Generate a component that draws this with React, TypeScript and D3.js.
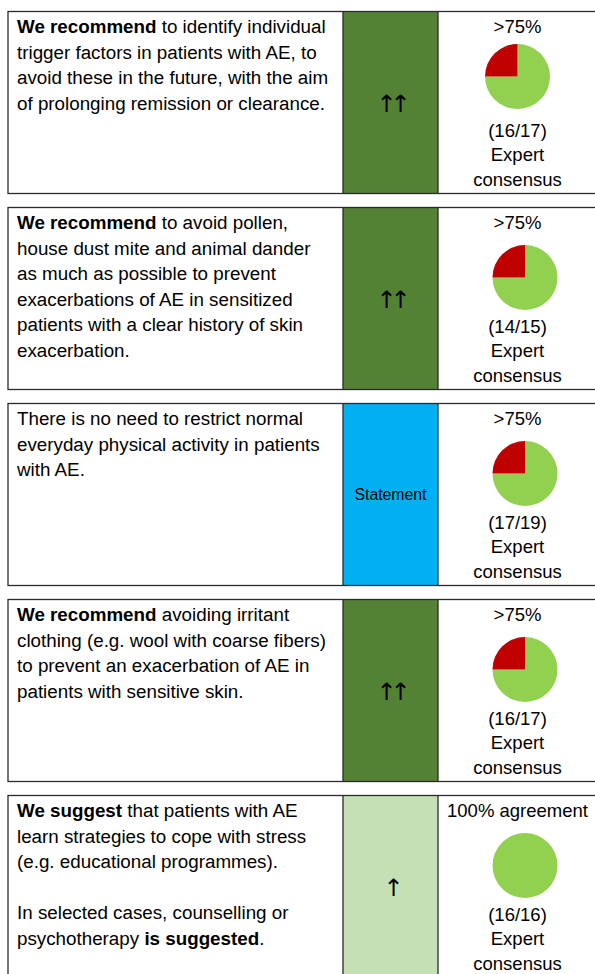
import React from "react";
import * as d3 from "d3";

// ---------- DATA ----------
// Recommendation text, one entry per row; each line is a list of [text, bold] segments
const recommendationLines: [string, boolean][][][] = [
  [
    [["We recommend", true], [" to identify individual", false]],
    [["trigger factors in patients with AE, to", false]],
    [["avoid these in the future, with the aim", false]],
    [["of prolonging remission or clearance.", false]],
  ],
  [
    [["We recommend", true], [" to avoid pollen,", false]],
    [["house dust mite and animal dander", false]],
    [["as much as possible to prevent", false]],
    [["exacerbations of AE in sensitized", false]],
    [["patients with a clear history of skin", false]],
    [["exacerbation.", false]],
  ],
  [
    [["There is no need to restrict normal", false]],
    [["everyday physical activity in patients", false]],
    [["with AE.", false]],
  ],
  [
    [["We recommend", true], [" avoiding irritant", false]],
    [["clothing (e.g. wool with coarse fibers)", false]],
    [["to prevent an exacerbation of AE in", false]],
    [["patients with sensitive skin.", false]],
  ],
  [
    [["We suggest", true], [" that patients with AE", false]],
    [["learn strategies to cope with stress", false]],
    [["(e.g. educational programmes).", false]],
    [],
    [["In selected cases, counselling or", false]],
    [["psychotherapy ", false], ["is suggested", true], [".", false]],
  ],
];

const strengthLabels = ["↑↑", "↑↑", "Statement", "↑↑", "↑"];
const strengthKinds = ["strong", "strong", "statement", "strong", "weak"];
const agreementLabels = [">75%", ">75%", ">75%", ">75%", "100% agreement"];
const votesFor = [16, 14, 17, 16, 16];
const votesTotal = [17, 15, 19, 17, 16];
// share of the pie icon drawn as agreement (green) vs. non-agreement (red)
const pieAgreeShare = [0.75, 0.75, 0.75, 0.75, 1];
const consensusLabel = ["Expert", "consensus"];

// ---------- STYLE ----------
const W = 595;
const H = 974;
const FONT = "'Liberation Sans', Arial, Helvetica, sans-serif";
const ARROW_FONT = "'DejaVu Sans', sans-serif";
const kindFill: Record<string, string> = {
  strong: "#548235",
  statement: "#00b0f0",
  weak: "#c5e0b4",
};
const GREEN = "#92d050";
const RED = "#c00000";
const BORDER = "#2b2b2b";

export default function App() {
  const n = recommendationLines.length;
  const yBox = d3
    .scaleBand<number>()
    .domain(d3.range(n))
    .range([11.5, 977.5])
    .paddingInner(14 / 196)
    .paddingOuter(0);
  const bh = yBox.bandwidth();

  const x0 = 8;
  const x1 = 343;
  const x2 = 438;
  const x3 = 600;

  const pie = d3
    .pie<number>()
    .sort(null)
    .value((d) => d);
  const arc = d3.arc<d3.PieArcDatum<number>>().innerRadius(0).outerRadius(32.5);

  return (
    <svg
      width={W}
      height={H}
      style={{ position: "absolute", left: 0, top: 0, background: "#fff" }}
      fontFamily={FONT}
    >
      <rect x={0} y={0} width={W} height={H} fill="#fff" />
      {d3.range(n).map((i) => {
        const top = yBox(i)!;
        const share = pieAgreeShare[i];
        const slices = pie([share, 1 - share]);
        const pieCx = i === 0 ? 517.5 : 525;
        const pieCy = top + (i === 0 ? 65 : 70);
        const midX = (x1 + x2) / 2;
        const rightX = 517.5;
        const kind = strengthKinds[i];
        const isStatement = kind === "statement";
        return (
          <g key={i}>
            <rect x={x0} y={top} width={x3 - x0} height={bh} fill="#fff" />
            <rect x={x1} y={top} width={x2 - x1} height={bh} fill={kindFill[kind]} />
            <rect
              x={x0}
              y={top}
              width={x3 - x0}
              height={bh}
              fill="none"
              stroke={BORDER}
              strokeWidth={1.3}
            />
            <line x1={x1} x2={x1} y1={top} y2={top + bh} stroke={BORDER} strokeWidth={1.3} />
            <line x1={x2} x2={x2} y1={top} y2={top + bh} stroke={BORDER} strokeWidth={1.3} />

            {recommendationLines[i].map((segs, li) => (
              <text
                key={li}
                x={17}
                y={top + 21.7 + li * 25.5}
                fontSize={18.8}
                fill="#000"
              >
                {segs.map(([t, b], si) => (
                  <tspan key={si} fontWeight={b ? "bold" : "normal"}>
                    {t}
                  </tspan>
                ))}
              </text>
            ))}

            <text
              x={midX}
              y={top + bh / 2 + (isStatement ? 0 : 1)}
              textAnchor="middle"
              dominantBaseline="central"
              fontSize={isStatement ? 15.8 : 24}
              fontFamily={isStatement ? FONT : ARROW_FONT}
              fill="#000"
              letterSpacing={isStatement ? 0 : -6}
            >
              {strengthLabels[i]}
            </text>

            <text x={rightX} y={top + 21.5} textAnchor="middle" fontSize={18.5} fill="#000">
              {agreementLabels[i]}
            </text>
            <g transform={`translate(${pieCx},${pieCy})`}>
              {slices.map((s, si) =>
                s.endAngle - s.startAngle > 0 ? (
                  <path key={si} d={arc(s) || ""} fill={si === 0 ? GREEN : RED} />
                ) : null
              )}
            </g>
            <text x={rightX} y={top + 125} textAnchor="middle" fontSize={18.5} fill="#000">
              {`(${votesFor[i]}/${votesTotal[i]})`}
            </text>
            {consensusLabel.map((c, ci) => (
              <text
                key={ci}
                x={rightX}
                y={top + 149.5 + ci * 24.5}
                textAnchor="middle"
                fontSize={18.5}
                fill="#000"
              >
                {c}
              </text>
            ))}
          </g>
        );
      })}
    </svg>
  );
}
